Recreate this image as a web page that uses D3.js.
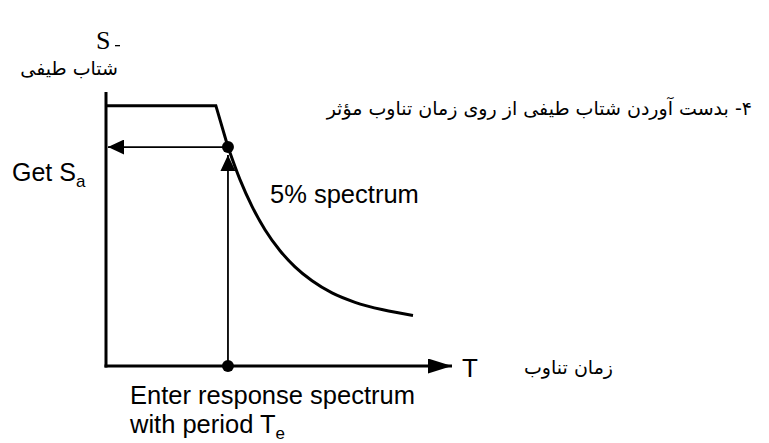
<!DOCTYPE html>
<html>
<head>
<meta charset="utf-8">
<script src="https://cdn.jsdelivr.net/npm/d3@7"></script>
<style>
  html, body { margin: 0; padding: 0; background: #fff; }
  svg { display: block; }
  .lat { font-family: "Liberation Sans", Arial, sans-serif; fill: #000; }
  .fa { font-family: "DejaVu Sans", "Noto Sans", sans-serif; fill: #000; }
</style>
</head>
<body>
<script>
// Design response spectrum (5% damping): period T vs spectral acceleration Sa
const plateauT  = [0, 1.27];
const plateauSa = [1.14, 1.14];
const curveT  = [1.410, 1.549, 1.688, 1.838, 2.012, 2.185, 2.382, 2.613, 2.879, 3.202, 3.549];
const curveSa = [0.959, 0.816, 0.699, 0.597, 0.505, 0.434, 0.373, 0.320, 0.279, 0.246, 0.221];
// Effective period and the spectral acceleration read at it
const effectiveT  = 1.41;
const effectiveSa = 0.959;
// Axis extents
const tMax = 4.0;
const saMax = 1.2;

const W = 769, H = 443;
const svg = d3.select("body").append("svg").attr("width", W).attr("height", H);

const x = d3.scaleLinear().domain([0, tMax]).range([106, 452]);
const y = d3.scaleLinear().domain([0, saMax]).range([366, 92]);

// arrow heads
const defs = svg.append("defs");
function arrowMarker(id, w, h) {
  defs.append("marker")
    .attr("id", id)
    .attr("viewBox", `0 0 ${w} ${h}`)
    .attr("refX", w).attr("refY", h / 2)
    .attr("markerWidth", w).attr("markerHeight", h)
    .attr("markerUnits", "userSpaceOnUse")
    .attr("orient", "auto")
    .append("path")
    .attr("d", `M0,0 L${w},${h / 2} L0,${h} Z`)
    .attr("fill", "#000");
}
arrowMarker("axisHead", 24, 15);
arrowMarker("readHead", 16, 15);

// axes: vertical Sa axis and horizontal T axis with arrow head
svg.append("line")
  .attr("x1", x(0)).attr("y1", y(saMax))
  .attr("x2", x(0)).attr("y2", y(0) + 1.5)
  .attr("stroke", "#000").attr("stroke-width", 3);
svg.append("line")
  .attr("x1", x(0) - 1.5).attr("y1", y(0))
  .attr("x2", x(tMax)).attr("y2", y(0))
  .attr("stroke", "#000").attr("stroke-width", 3)
  .attr("marker-end", "url(#axisHead)");

// spectrum: plateau, straight descent, then the decaying branch
const plateau = plateauT.map((t, i) => [t, plateauSa[i]]);
const branch = curveT.map((t, i) => [t, curveSa[i]]);
svg.append("path")
  .attr("d", d3.line().x(d => x(d[0])).y(d => y(d[1]))(plateau.concat([branch[0]])))
  .attr("fill", "none").attr("stroke", "#000").attr("stroke-width", 3)
  .attr("stroke-linejoin", "miter");
svg.append("path")
  .attr("d", d3.line().x(d => x(d[0])).y(d => y(d[1])).curve(d3.curveMonotoneX)(branch))
  .attr("fill", "none").attr("stroke", "#000").attr("stroke-width", 3);

// reading arrows: up from T axis to spectrum, then left to Sa axis
svg.append("line")
  .attr("x1", x(effectiveT)).attr("y1", y(0))
  .attr("x2", x(effectiveT)).attr("y2", y(effectiveSa) + 8)
  .attr("stroke", "#000").attr("stroke-width", 1.8)
  .attr("marker-end", "url(#readHead)");
svg.append("line")
  .attr("x1", x(effectiveT)).attr("y1", y(effectiveSa))
  .attr("x2", x(0) + 2).attr("y2", y(effectiveSa))
  .attr("stroke", "#000").attr("stroke-width", 1.8)
  .attr("marker-end", "url(#readHead)");

svg.append("circle").attr("cx", x(effectiveT)).attr("cy", y(effectiveSa)).attr("r", 6).attr("fill", "#000");
svg.append("circle").attr("cx", x(effectiveT)).attr("cy", y(0)).attr("r", 6).attr("fill", "#000");

// labels
svg.append("text").attr("x", 96).attr("y", 49)
  .attr("font-family", "Liberation Serif, Times New Roman, serif")
  .attr("font-size", 26).text("S");
svg.append("rect").attr("x", 115).attr("y", 45).attr("width", 5).attr("height", 1.3).attr("fill", "#000");

svg.append("text").attr("class", "fa").attr("x", 118).attr("y", 75)
  .attr("text-anchor", "start").attr("font-size", 19).attr("direction", "rtl")
  .text("شتاب طیفی");

svg.append("text").attr("class", "fa").attr("x", 752).attr("y", 115)
  .attr("text-anchor", "start").attr("font-size", 19).attr("direction", "rtl")
  .text("۴- بدست آوردن شتاب طیفی از روی زمان تناوب مؤثر");

const getSa = svg.append("text").attr("class", "lat").attr("x", 12).attr("y", 181).attr("font-size", 25);
getSa.append("tspan").text("Get S");
getSa.append("tspan").attr("font-size", 17).attr("dy", 6).text("a");

svg.append("text").attr("class", "lat").attr("x", 270).attr("y", 203).attr("font-size", 25.5)
  .text("5% spectrum");

svg.append("text").attr("class", "lat").attr("x", 462).attr("y", 377).attr("font-size", 26)
  .text("T");

svg.append("text").attr("class", "fa").attr("x", 613).attr("y", 374)
  .attr("text-anchor", "start").attr("font-size", 19).attr("direction", "rtl")
  .text("زمان تناوب");

svg.append("text").attr("class", "lat").attr("x", 130).attr("y", 404).attr("font-size", 25.5)
  .text("Enter response spectrum");
const wp = svg.append("text").attr("class", "lat").attr("x", 130).attr("y", 433).attr("font-size", 25.5);
wp.append("tspan").text("with period T");
wp.append("tspan").attr("font-size", 17).attr("dy", 6).text("e");
</script>
</body>
</html>
